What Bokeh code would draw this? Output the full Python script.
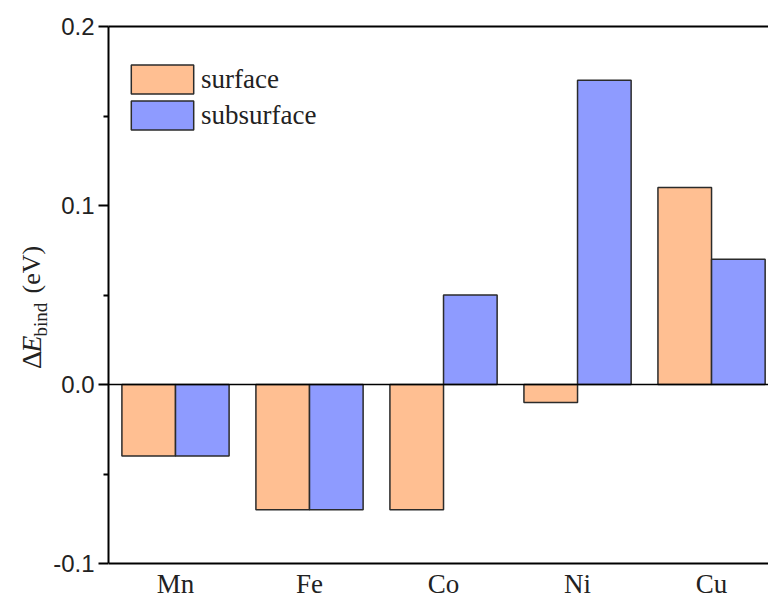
import math
from bokeh.plotting import figure
from bokeh.layouts import row
from bokeh.models import (Range1d, FixedTicker, PrintfTickFormatter, LinearAxis,
                          Span, Legend, LegendItem, ColumnDataSource)
from bokeh.core.properties import value
from bokeh.embed import file_html
from bokeh.resources import INLINE

# ---- data ----
elements = ["Mn", "Fe", "Co", "Ni", "Cu"]
surface = [-0.04, -0.07, -0.07, -0.01, 0.11]
subsurface = [-0.04, -0.07, 0.05, 0.17, 0.07]
series_names = ["surface", "subsurface"]
y_min, y_max = -0.1, 0.2
y_ticks = [-0.1, 0.0, 0.1, 0.2]
y_minor = [-0.05, 0.05, 0.15]
ylabel_parts = ["Δ", "E", "bind", "(eV)"]

SURF_COLOR = "#FFBF92"
SUB_COLOR = "#8E9BFF"
EDGE = "#2b2b2b"
TXT = "#222222"

W, H = 768, 599
LAB_W = 50          # strip holding the rotated y-axis title
LEFT = 108          # x of the y axis
TOP = 26            # top of the plot frame
BOTTOM = 563        # y of the x axis line
MID = 0.3375        # baseline-to-middle offset (fraction of font size)
PX = (y_max - y_min) / (BOTTOM - TOP)   # data units per pixel

# ---- y-axis title strip (rotated, mixed styles) ----
lab = figure(width=LAB_W, height=H, output_backend="svg", toolbar_location=None,
             x_range=Range1d(0, LAB_W), y_range=Range1d(0, H),
             min_border=0, x_axis_type=None, y_axis_type=None)
lab.outline_line_color = None
lab.grid.visible = False
tcommon = dict(angle=math.pi / 2, text_align=value("left"), text_baseline=value("middle"),
               text_font=value("Liberation Serif"), text_color=TXT)
BASE, SUBBASE = 40, 46
lab.text(x=[BASE - MID * 28], y=[H - 358], text=[ylabel_parts[0]],
         text_font_size=value("28px"), **tcommon)
lab.text(x=[BASE - MID * 28], y=[H - 341], text=[ylabel_parts[1]],
         text_font_size=value("28px"), text_font_style=value("italic"), **tcommon)
lab.text(x=[SUBBASE - MID * 19], y=[H - 324], text=[ylabel_parts[2]],
         text_font_size=value("19px"), **tcommon)
lab.text(x=[BASE - MID * 26], y=[H - 279], text=[ylabel_parts[3]],
         text_font_size=value("26px"), **tcommon)

# ---- main chart (frame runs to the bottom edge; x labels live below y_min) ----
pos = [i + 1 for i in range(len(elements))]
bw = 0.4
src = ColumnDataSource(dict(
    xs=[x - bw / 2 for x in pos], xb=[x + bw / 2 for x in pos],
    surface=surface, subsurface=subsurface))

p = figure(width=W - LAB_W, height=H, output_backend="svg", toolbar_location=None,
           x_range=Range1d(0.5, 5.425),
           y_range=Range1d(y_min - (H - BOTTOM) * PX, y_max),
           min_border_left=LEFT - LAB_W, min_border_right=0, min_border_top=TOP,
           min_border_bottom=0, x_axis_type=None, y_axis_type=None)
p.outline_line_color = None
p.grid.visible = False
p.background_fill_color = "white"
p.border_fill_color = "white"

r1 = p.vbar(x="xs", top="surface", bottom=0, width=bw, source=src,
            fill_color=SURF_COLOR, line_color=EDGE, line_width=1.5)
r2 = p.vbar(x="xb", top="subsurface", bottom=0, width=bw, source=src,
            fill_color=SUB_COLOR, line_color=EDGE, line_width=1.5)

p.add_layout(Span(location=0, dimension="width", line_color="black", line_width=1.5))
p.add_layout(Span(location=y_min, dimension="width", line_color="black", line_width=2))

# left axis (line limited to the value range)
yax = LinearAxis(ticker=FixedTicker(ticks=y_ticks, minor_ticks=y_minor),
                 formatter=PrintfTickFormatter(format="%.1f"), bounds=(y_min, y_max))
yax.axis_line_width = 2
yax.axis_line_color = "black"
yax.major_tick_out = 10
yax.major_tick_in = 0
yax.minor_tick_out = 5
yax.minor_tick_in = 0
yax.major_tick_line_width = 2
yax.minor_tick_line_width = 2
yax.major_label_text_font = "Liberation Sans"
yax.major_label_text_font_size = "24px"
yax.major_label_text_color = TXT
yax.major_label_standoff = 4
p.add_layout(yax, "left")

# top border
tax = LinearAxis(ticker=FixedTicker(ticks=[]))
tax.axis_line_width = 2
tax.axis_line_color = "black"
tax.major_tick_line_color = None
tax.minor_tick_line_color = None
tax.major_tick_out = 0
tax.major_tick_in = 0
tax.minor_tick_out = 0
tax.minor_tick_in = 0
tax.major_label_standoff = 0
tax.major_label_text_font_size = "0px"
p.add_layout(tax, "above")

# category labels under the x axis line
lab_base_px = 593
p.text(x=pos, y=[y_min - (lab_base_px - MID * 27 - BOTTOM) * PX] * len(pos), text=elements,
       text_align=value("center"), text_baseline=value("middle"),
       text_font=value("Liberation Serif"), text_font_size=value("27px"),
       text_color=TXT)

legend = Legend(items=[LegendItem(label=series_names[0], renderers=[r1]),
                       LegendItem(label=series_names[1], renderers=[r2])],
                location=(15, 430 + (H - BOTTOM)), orientation="vertical")
legend.glyph_width = 78
legend.glyph_height = 36
legend.label_height = 36
legend.spacing = 0
legend.padding = 0
legend.margin = 0
legend.label_standoff = 0
legend.border_line_color = None
legend.background_fill_alpha = 0
legend.label_text_font = "Liberation Serif"
legend.label_text_font_size = "27px"
legend.label_text_color = TXT
p.add_layout(legend, "center")

layout = row(lab, p, spacing=0)
open("out.html", "w").write(file_html(layout, INLINE))
